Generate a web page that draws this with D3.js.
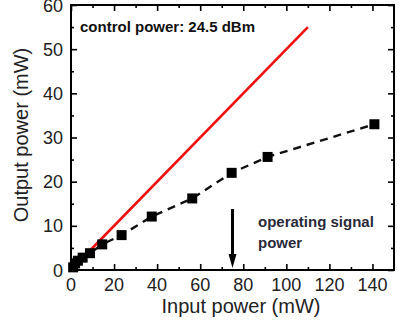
<!DOCTYPE html>
<html>
<head>
<meta charset="utf-8">
<script src="https://cdn.jsdelivr.net/npm/d3@7"></script>
<style>
  body { margin: 0; background: #fff; }
  svg { display: block; font-family: Arial, "Liberation Sans", sans-serif; }
</style>
</head>
<body>
<svg id="chart" width="397" height="320"></svg>
<script>
// measured output vs input power
var inputPower  = [1.0, 1.9, 3.2, 5.4, 8.8, 14.5, 23.5, 37.5, 56.3, 74.6, 91.3, 140.9];
var outputPower = [0.6, 1.5, 2.1, 2.8, 3.8, 5.8, 7.9, 12.1, 16.2, 22.0, 25.6, 33.0];

// linear reference (red)
var refInput  = [0, 110];
var refOutput = [0, 55];

var xTicks = [0, 20, 40, 60, 80, 100, 120, 140];
var yTicks = [0, 10, 20, 30, 40, 50, 60];

var svg = d3.select("#chart");
var plotLeft = 71, plotRight = 394, plotTop = 5, plotBottom = 270;

var x = d3.scaleLinear().domain([0, 150]).range([plotLeft, plotRight]);
var y = d3.scaleLinear().domain([0, 60]).range([plotBottom, plotTop]);

var minorX = d3.range(10, 150, 20);
var minorY = d3.range(5, 60, 10);

//// axes, ticks point inward on all four sides
var g = svg.append("g");
function addTicks(axis, pos, vals, len) {
  g.append("g").attr("transform", pos)
    .call(axis.tickValues(vals).tickSize(len).tickFormat(""));
}
addTicks(d3.axisTop(x), "translate(0," + plotBottom + ")", xTicks, 6);
addTicks(d3.axisTop(x), "translate(0," + plotBottom + ")", minorX, 3);
addTicks(d3.axisBottom(x), "translate(0," + plotTop + ")", xTicks, 6);
addTicks(d3.axisBottom(x), "translate(0," + plotTop + ")", minorX, 3);
addTicks(d3.axisRight(y), "translate(" + plotLeft + ",0)", yTicks, 6);
addTicks(d3.axisRight(y), "translate(" + plotLeft + ",0)", minorY, 3);
addTicks(d3.axisLeft(y), "translate(" + plotRight + ",0)", yTicks, 6);
addTicks(d3.axisLeft(y), "translate(" + plotRight + ",0)", minorY, 3);

g.selectAll(".domain").remove();
g.selectAll(".tick line").attr("stroke", "#000").attr("stroke-width", 1.6);

// frame
svg.append("rect")
  .attr("x", plotLeft).attr("y", plotTop)
  .attr("width", plotRight - plotLeft).attr("height", plotBottom - plotTop)
  .attr("fill", "none").attr("stroke", "#000").attr("stroke-width", 2);

// tick labels
svg.append("g").selectAll("text").data(xTicks).enter().append("text")
  .attr("x", d => x(d)).attr("y", 291)
  .attr("text-anchor", "middle")
  .attr("font-size", 18).attr("fill", "#222")
  .text(d => d);

svg.append("g").selectAll("text").data(yTicks).enter().append("text")
  .attr("x", 63).attr("y", d => y(d) + 6.5)
  .attr("text-anchor", "end")
  .attr("font-size", 18).attr("fill", "#222")
  .text(d => d);

// axis titles
svg.append("text")
  .attr("x", 241).attr("y", 313)
  .attr("text-anchor", "middle").attr("font-size", 20).attr("fill", "#222")
  .text("Input power (mW)");
svg.append("text")
  .attr("transform", "translate(28,135) rotate(-90)")
  .attr("text-anchor", "middle").attr("font-size", 20).attr("fill", "#222")
  .text("Output power (mW)");

//// red reference line
var line = d3.line().x(d => x(d[0])).y(d => y(d[1]));
svg.append("path")
  .datum(d3.zip(refInput, refOutput))
  .attr("d", line)
  .attr("fill", "none").attr("stroke", "#ee1111").attr("stroke-width", 2.6);

//// dashed line through the measurements
var pts = d3.zip(inputPower, outputPower);
svg.append("path")
  .datum(pts)
  .attr("d", line)
  .attr("fill", "none").attr("stroke", "#111")
  .attr("stroke-width", 2.4).attr("stroke-dasharray", "8,6");

var sq = 10;
svg.append("g").selectAll("rect").data(pts).enter().append("rect")
  .attr("x", d => x(d[0]) - sq / 2).attr("y", d => y(d[1]) - sq / 2)
  .attr("width", sq).attr("height", sq).attr("fill", "#000");

//// operating signal arrow
var arrowX = x(75);
svg.append("line")
  .attr("x1", arrowX).attr("x2", arrowX)
  .attr("y1", 209).attr("y2", 256)
  .attr("stroke", "#000").attr("stroke-width", 3);
svg.append("path")
  .attr("d", "M" + (arrowX - 4) + ",254 L" + (arrowX + 4) + ",254 L" + arrowX + ",268 Z")
  .attr("fill", "#000");

svg.append("text")
  .attr("x", 258).attr("y", 227)
  .attr("font-size", 15).attr("font-weight", "bold").attr("fill", "#2a2a3a")
  .text("operating signal");
svg.append("text")
  .attr("x", 258).attr("y", 248)
  .attr("font-size", 15).attr("font-weight", "bold").attr("fill", "#2a2a3a")
  .text("power");

svg.append("text")
  .attr("x", 80).attr("y", 32)
  .attr("font-size", 15).attr("font-weight", "bold").attr("fill", "#111")
  .text("control power: 24.5 dBm");
</script>
</body>
</html>
